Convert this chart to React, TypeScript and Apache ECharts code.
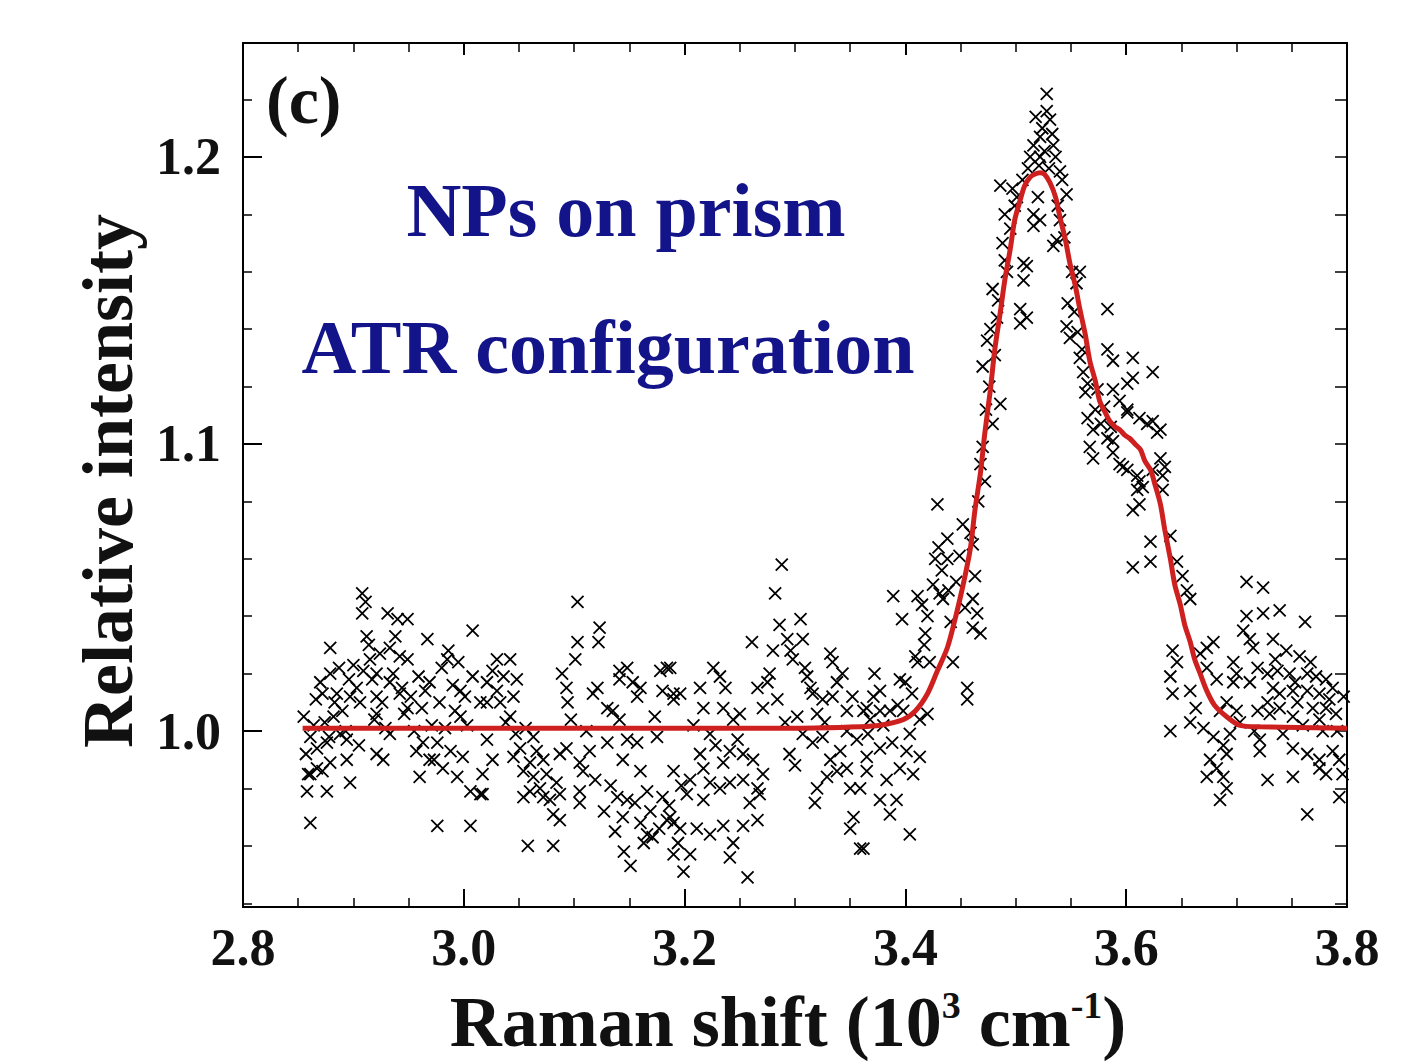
import React, { useEffect, useRef } from "react";
import * as echarts from "echarts";

// ---------- data (x in 10^3 cm^-1, y relative intensity) ----------
const xTickValues = [2.8, 3.0, 3.2, 3.4, 3.6, 3.8];
const yMajorTicks = [1.0, 1.1, 1.2];
const yMinorTicks = [0.94, 0.96, 0.98, 1.02, 1.04, 1.06, 1.08, 1.12, 1.14, 1.16, 1.18, 1.22];

const pointsLeft: number[][] = [
  [2.908,1.048],[2.911,1.045],[2.908,1.041],[2.931,1.041],[2.940,1.039],[2.949,1.039],[2.912,1.033],[2.879,1.029],
  [2.933,1.029],[2.942,1.026],[2.915,1.025],[2.949,1.025],[2.909,1.021],[2.921,1.020],[2.879,1.020],[2.967,1.032],
  [2.986,1.028],[2.985,1.025],[2.980,1.022],[3.008,1.035],[2.872,1.013],[2.885,1.013],[2.897,1.012],[2.906,1.010],
  [2.921,1.012],[2.933,1.017],[2.942,1.013],[2.949,1.008],[2.959,1.019],[2.969,1.017],[2.997,1.014],[3.008,1.019],
  [3.015,1.010],[2.882,1.005],[2.921,1.006],[2.997,1.005],[2.861,0.998],[2.888,0.999],[2.894,0.997],[2.867,0.994],
  [2.876,0.996],[2.933,0.999],[2.963,0.996],[2.976,0.996],[2.988,0.993],[2.999,0.991],[2.921,0.992],[2.927,0.990],
  [2.894,0.990],[2.867,0.987],[2.861,0.985],[2.872,0.986],[2.879,0.989],[2.969,0.990],[2.981,0.987],[2.994,0.984],
  [3.006,0.979],[3.015,0.978],[2.960,0.984],[2.858,0.979],[2.876,0.979],[2.897,0.982],[2.861,0.968],[2.976,0.967],
  [3.006,0.967],[2.855,1.005],[2.857,0.992],[2.859,0.985],[2.864,1.002],[2.866,1.011],[2.870,1.017],[2.874,1.003],
  [2.878,0.998],[2.883,1.010],[2.887,1.022],[2.890,1.007],[2.893,1.000],[2.896,1.018],[2.900,1.023],[2.903,1.015],
  [2.905,0.995],[2.914,1.030],[2.917,1.018],[2.919,1.004],[2.924,1.027],[2.926,1.010],[2.929,1.001],[2.936,1.020],
  [2.938,1.033],[2.944,1.015],[2.946,1.006],[2.952,1.012],[2.955,1.000],[2.957,0.993],[2.962,1.008],[2.965,1.014],
  [2.971,1.002],[2.973,0.990],[2.978,1.010],[2.983,1.001],[2.990,1.016],[2.992,1.007],[2.995,1.024],[3.001,1.012],
  [3.003,1.002],
];

const pointsMidLeft: number[][] = [
  [3.103,1.045],[3.123,1.036],[3.122,1.031],[3.103,1.031],[3.101,1.025],[3.089,1.020],[3.030,1.025],[3.042,1.025],
  [3.026,1.021],[3.036,1.019],[3.048,1.018],[3.021,1.017],[3.030,1.014],[3.045,1.012],[3.021,1.010],[3.033,1.010],
  [3.093,1.015],[3.094,1.010],[3.117,1.013],[3.121,1.015],[3.141,1.021],[3.148,1.022],[3.153,1.017],[3.160,1.015],
  [3.157,1.012],[3.141,1.018],[3.178,1.021],[3.184,1.022],[3.180,1.014],[3.190,1.013],[3.130,1.008],[3.135,1.007],
  [3.141,1.004],[3.042,1.005],[3.021,0.997],[3.063,0.998],[3.051,0.994],[3.093,0.994],[3.087,0.992],[3.114,0.993],
  [3.130,0.996],[3.148,0.997],[3.157,0.996],[3.175,0.998],[3.026,0.990],[3.045,0.991],[3.060,0.989],[3.072,0.990],
  [3.105,0.989],[3.144,0.990],[3.017,0.985],[3.054,0.986],[3.063,0.984],[3.069,0.980],[3.108,0.986],[3.160,0.986],
  [3.190,0.986],[3.054,0.977],[3.060,0.979],[3.072,0.977],[3.078,0.976],[3.087,0.978],[3.105,0.979],[3.105,0.975],
  [3.139,0.977],[3.148,0.976],[3.166,0.979],[3.180,0.977],[3.017,0.978],[3.081,0.971],[3.087,0.969],[3.144,0.970],
  [3.160,0.968],[3.166,0.964],[3.171,0.963],[3.184,0.969],[3.190,0.968],[3.058,0.960],[3.081,0.960],[3.151,0.953],
  [3.190,0.957],[3.038,1.003],[3.047,0.999],[3.056,1.001],[3.066,0.993],[3.075,0.985],[3.084,0.982],[3.097,1.004],
  [3.111,1.000],[3.119,0.983],[3.127,0.972],[3.133,0.981],[3.137,0.965],[3.145,0.958],[3.155,0.975],[3.163,0.961],
  [3.169,0.972],[3.173,1.005],[3.177,0.966],[3.186,0.974],[3.194,0.961],[3.197,0.981],
];

const pointsMidRight: number[][] = [
  [3.288,1.058],[3.282,1.048],[3.305,1.039],[3.286,1.037],[3.261,1.031],[3.293,1.032],[3.307,1.032],[3.280,1.028],
  [3.296,1.028],[3.298,1.025],[3.332,1.027],[3.334,1.024],[3.226,1.022],[3.187,1.022],[3.232,1.019],[3.237,1.015],
  [3.214,1.015],[3.196,1.013],[3.190,1.011],[3.277,1.020],[3.275,1.017],[3.266,1.015],[3.284,1.011],[3.271,1.008],
  [3.311,1.019],[3.314,1.015],[3.316,1.013],[3.338,1.017],[3.334,1.012],[3.325,1.011],[3.347,1.007],[3.362,1.007],
  [3.217,1.008],[3.235,1.008],[3.302,1.005],[3.320,1.006],[3.223,0.999],[3.244,1.004],[3.307,0.999],[3.316,0.996],
  [3.325,0.998],[3.347,1.000],[3.356,0.997],[3.248,0.997],[3.241,0.993],[3.253,0.992],[3.214,0.992],[3.217,0.987],
  [3.235,0.989],[3.262,0.990],[3.271,0.985],[3.300,0.988],[3.332,0.990],[3.338,0.986],[3.347,0.987],[3.365,0.986],
  [3.205,0.983],[3.223,0.982],[3.232,0.980],[3.241,0.982],[3.253,0.983],[3.266,0.980],[3.320,0.980],[3.329,0.984],
  [3.350,0.980],[3.359,0.980],[3.202,0.978],[3.217,0.976],[3.259,0.975],[3.266,0.969],[3.253,0.967],[3.187,0.970],
  [3.196,0.966],[3.211,0.966],[3.223,0.964],[3.235,0.967],[3.353,0.970],[3.350,0.966],[3.359,0.959],[3.244,0.961],
  [3.205,0.957],[3.241,0.956],[3.199,0.951],[3.257,0.949],[3.208,1.002],[3.228,0.995],[3.250,1.006],[3.268,0.978],
  [3.291,1.003],[3.295,0.992],[3.309,1.022],[3.318,0.975],[3.327,1.003],[3.341,0.993],[3.343,1.020],[3.352,1.012],
  [3.366,0.999],[3.368,1.004],
];

const pointsRise: number[][] = [
  [3.429,1.079],[3.438,1.067],[3.430,1.064],[3.427,1.060],[3.438,1.060],[3.459,1.069],[3.461,1.065],[3.389,1.047],
  [3.411,1.047],[3.415,1.044],[3.420,1.040],[3.397,1.039],[3.418,1.034],[3.431,1.048],[3.434,1.046],[3.439,1.049],
  [3.463,1.054],[3.461,1.046],[3.465,1.041],[3.461,1.036],[3.468,1.034],[3.409,1.026],[3.411,1.024],[3.372,1.020],
  [3.395,1.018],[3.400,1.017],[3.422,1.024],[3.443,1.024],[3.456,1.015],[3.456,1.011],[3.377,1.014],[3.371,1.012],
  [3.365,1.008],[3.377,1.007],[3.386,1.007],[3.398,1.007],[3.420,1.006],[3.404,0.999],[3.413,1.004],[3.377,0.994],
  [3.365,0.991],[3.401,0.993],[3.413,0.991],[3.395,0.987],[3.407,0.985],[3.383,0.983],[3.377,0.976],[3.392,0.976],
  [3.386,0.971],[3.404,0.964],[3.362,0.959],[3.380,1.002],[3.388,0.996],[3.393,1.009],[3.406,1.013],[3.417,1.030],
  [3.425,1.051],[3.433,1.056],[3.441,1.038],[3.446,1.052],[3.449,1.061],[3.452,1.072],[3.454,1.043],
];

const pointsPeak: number[][] = [
  [3.528,1.222],[3.528,1.216],[3.531,1.213],[3.524,1.210],[3.533,1.208],[3.522,1.207],[3.534,1.204],[3.516,1.204],
  [3.526,1.202],[3.513,1.200],[3.522,1.200],[3.511,1.196],[3.540,1.195],[3.542,1.192],[3.486,1.190],[3.497,1.189],
  [3.501,1.186],[3.520,1.186],[3.546,1.187],[3.490,1.180],[3.516,1.180],[3.522,1.178],[3.516,1.176],[3.540,1.178],
  [3.488,1.170],[3.534,1.169],[3.537,1.171],[3.490,1.164],[3.507,1.163],[3.510,1.162],[3.507,1.157],[3.479,1.154],
  [3.558,1.160],[3.555,1.156],[3.547,1.149],[3.583,1.147],[3.504,1.147],[3.510,1.144],[3.483,1.144],[3.504,1.142],
  [3.477,1.140],[3.474,1.136],[3.546,1.141],[3.549,1.137],[3.470,1.127],[3.558,1.130],[3.583,1.133],[3.588,1.129],
  [3.606,1.130],[3.624,1.125],[3.606,1.123],[3.601,1.121],[3.561,1.125],[3.565,1.121],[3.574,1.119],[3.588,1.119],
  [3.594,1.115],[3.601,1.112],[3.612,1.109],[3.624,1.108],[3.631,1.105],[3.486,1.114],[3.479,1.107],[3.470,1.099],
  [3.472,1.087],[3.565,1.109],[3.570,1.105],[3.583,1.102],[3.588,1.101],[3.567,1.099],[3.570,1.095],[3.588,1.097],
  [3.594,1.093],[3.601,1.091],[3.610,1.089],[3.631,1.095],[3.635,1.092],[3.633,1.089],[3.615,1.085],[3.466,1.080],
  [3.468,1.093],[3.473,1.112],[3.476,1.120],[3.481,1.131],[3.484,1.150],[3.492,1.160],[3.495,1.175],[3.499,1.183],
  [3.506,1.192],[3.518,1.214],[3.521,1.197],[3.530,1.196],[3.536,1.200],[3.538,1.183],[3.544,1.172],[3.551,1.160],
  [3.553,1.146],[3.556,1.139],[3.560,1.133],[3.563,1.118],[3.572,1.112],[3.577,1.107],[3.580,1.113],[3.586,1.106],
];

const pointsRight: number[][] = [
  [3.601,1.111],[3.619,1.107],[3.628,1.104],[3.624,1.091],[3.597,1.092],[3.612,1.087],[3.610,1.084],[3.633,1.084],
  [3.612,1.079],[3.606,1.077],[3.622,1.066],[3.606,1.057],[3.622,1.059],[3.640,1.068],[3.646,1.059],[3.651,1.054],
  [3.655,1.049],[3.658,1.046],[3.709,1.052],[3.724,1.050],[3.709,1.040],[3.724,1.041],[3.739,1.042],[3.762,1.038],
  [3.706,1.035],[3.712,1.032],[3.715,1.029],[3.733,1.032],[3.757,1.026],[3.642,1.028],[3.646,1.024],[3.640,1.019],
  [3.642,1.013],[3.658,1.014],[3.667,1.027],[3.673,1.029],[3.679,1.031],[3.673,1.022],[3.682,1.018],[3.697,1.024],
  [3.700,1.020],[3.697,1.017],[3.719,1.022],[3.728,1.020],[3.737,1.021],[3.748,1.020],[3.764,1.020],[3.772,1.019],
  [3.781,1.018],[3.787,1.015],[3.733,1.015],[3.739,1.013],[3.751,1.014],[3.764,1.014],[3.775,1.013],[3.728,1.010],
  [3.739,1.008],[3.755,1.010],[3.769,1.008],[3.781,1.008],[3.790,1.006],[3.691,1.010],[3.700,1.007],[3.719,1.007],
  [3.730,1.006],[3.751,1.005],[3.775,1.004],[3.640,1.000],[3.658,1.003],[3.685,1.007],[3.679,0.998],[3.694,0.999],
  [3.721,0.997],[3.721,0.993],[3.742,0.999],[3.751,0.994],[3.764,0.992],[3.775,0.990],[3.787,0.993],[3.793,0.990],
  [3.676,0.990],[3.682,0.987],[3.691,0.992],[3.673,0.984],[3.688,0.984],[3.691,0.980],[3.685,0.976],[3.728,0.983],
  [3.751,0.984],[3.775,0.987],[3.781,0.985],[3.793,0.977],[3.764,0.971],[3.663,1.008],[3.670,1.001],[3.688,0.995],
  [3.703,1.003],[3.712,1.017],[3.716,1.000],[3.735,1.025],[3.745,1.028],[3.753,1.017],[3.760,1.002],[3.767,1.024],
  [3.778,1.000],[3.784,1.011],[3.791,1.000],[3.796,0.985],[3.797,1.012],
];

const fitCurve: number[][] = [
  [2.854,1.001],[3.300,1.001],[3.359,1.0015],[3.377,1.002],[3.398,1.004],[3.409,1.007],[3.420,1.013],[3.429,1.021],
  [3.438,1.029],[3.445,1.039],[3.450,1.047],[3.454,1.054],[3.459,1.064],[3.463,1.077],[3.468,1.090],[3.472,1.104],
  [3.477,1.119],[3.481,1.133],[3.486,1.146],[3.490,1.157],[3.495,1.168],[3.499,1.178],[3.504,1.185],[3.508,1.190],
  [3.513,1.193],[3.517,1.194],[3.522,1.1945],[3.526,1.194],[3.531,1.191],[3.536,1.186],[3.540,1.179],[3.545,1.171],
  [3.549,1.163],[3.554,1.155],[3.558,1.147],[3.563,1.138],[3.567,1.129],[3.572,1.122],[3.576,1.115],[3.581,1.111],
  [3.585,1.108],[3.590,1.106],[3.594,1.105],[3.599,1.103],[3.603,1.102],[3.608,1.100],[3.613,1.098],[3.617,1.094],
  [3.622,1.091],[3.626,1.086],[3.631,1.079],[3.635,1.070],[3.640,1.060],[3.644,1.051],[3.649,1.044],[3.653,1.037],
  [3.658,1.031],[3.662,1.025],[3.667,1.020],[3.673,1.014],[3.680,1.009],[3.691,1.005],[3.703,1.002],[3.721,1.0015],
  [3.800,1.001],
];

const FONT = '"Liberation Serif", "Times New Roman", serif';
const NAVY = "#14148a";
const RED = "#cf2020";

export default function App() {
  const ref = useRef<HTMLDivElement>(null);
  useEffect(() => {
    document.body.style.margin = "0";
    if (!ref.current) return;
    const chart = echarts.init(ref.current, null, { renderer: "svg" });
    const allPoints = [
      ...pointsLeft, ...pointsMidLeft, ...pointsMidRight, ...pointsRise, ...pointsPeak, ...pointsRight,
    ];
    const axisLine = { show: true, onZero: false, lineStyle: { color: "#000", width: 2 } };
    const xBase = {
      type: "value" as const,
      min: 2.8,
      max: 3.8,
      interval: 0.2,
      axisLine,
      splitLine: { show: false },
      minorTick: { show: true, splitNumber: 4, length: 9, lineStyle: { color: "#000", width: 1.5 } },
    };
    const yBase = {
      type: "value" as const,
      min: 0.9387,
      max: 1.2397,
      axisLine,
      splitLine: { show: false },
    };
    chart.setOption({
      animation: false,
      backgroundColor: "#fff",
      grid: { left: 243, right: 55, top: 43, bottom: 154, show: false },
      xAxis: [
        {
          ...xBase,
          position: "bottom",
          axisTick: { show: true, inside: true, length: 18, lineStyle: { color: "#000", width: 2 } },
          axisLabel: {
            show: true,
            margin: 14,
            color: "#111",
            fontFamily: FONT,
            fontWeight: "bold",
            fontSize: 52,
            formatter: (v: number) => v.toFixed(1),
            customValues: xTickValues,
          },
        },
        {
          ...xBase,
          position: "top",
          axisTick: { show: true, inside: true, length: 12, lineStyle: { color: "#000", width: 2 } },
          axisLabel: { show: false },
        },
      ],
      yAxis: [
        {
          ...yBase,
          position: "left",
          axisTick: { show: true, inside: true, length: 19, customValues: yMajorTicks, lineStyle: { color: "#000", width: 2 } },
          axisLabel: {
            show: true,
            margin: 22,
            color: "#111",
            fontFamily: FONT,
            fontWeight: "bold",
            fontSize: 52,
            customValues: yMajorTicks,
            formatter: (v: number) => v.toFixed(1),
          },
        },
        {
          ...yBase,
          position: "left",
          axisTick: { show: true, inside: true, length: 9, customValues: yMinorTicks, lineStyle: { color: "#000", width: 1.5 } },
          axisLabel: { show: false },
        },
        {
          ...yBase,
          position: "right",
          axisTick: {
            show: true,
            inside: true,
            length: 12,
            customValues: [...yMinorTicks, ...yMajorTicks],
            lineStyle: { color: "#000", width: 1.5 },
          },
          axisLabel: { show: false },
        },
      ],
      series: [
        {
          type: "scatter",
          xAxisIndex: 0,
          yAxisIndex: 0,
          data: allPoints,
          symbol: "path://M0,0L10,10M10,0L0,10",
          symbolSize: 12,
          itemStyle: { color: "none", borderColor: "#000", borderWidth: 1.8, opacity: 1 },
          z: 2,
        },
        {
          type: "line",
          xAxisIndex: 0,
          yAxisIndex: 0,
          data: fitCurve,
          showSymbol: false,
          smooth: 0.3,
          lineStyle: { color: RED, width: 5 },
          z: 3,
        },
      ],
      graphic: [
        {
          type: "text",
          x: 266,
          y: 100,
          style: { text: "(c)", fill: "#111", font: `bold 68px ${FONT}`, align: "left", verticalAlign: "middle" },
        },
        {
          type: "text",
          x: 626,
          y: 210,
          style: { text: "NPs on prism", fill: NAVY, font: `bold 76px ${FONT}`, align: "center", verticalAlign: "middle" },
        },
        {
          type: "text",
          x: 608,
          y: 347,
          style: { text: "ATR configuration", fill: NAVY, font: `bold 76px ${FONT}`, align: "center", verticalAlign: "middle" },
        },
        {
          type: "text",
          x: 108,
          y: 481,
          rotation: Math.PI / 2,
          style: { text: "Relative intensity", fill: "#111", font: `bold 72px ${FONT}`, align: "center", verticalAlign: "middle" },
        },
        {
          type: "text",
          x: 788,
          y: 1022,
          style: {
            text: "{a|Raman shift (10}{s|3}{a| cm}{s|-1}{a|)}",
            align: "center",
            verticalAlign: "middle",
            fill: "#111",
            rich: {
              a: { fontFamily: FONT, fontWeight: "bold", fontSize: 72, fill: "#111", color: "#111" },
              s: { fontFamily: FONT, fontWeight: "bold", fontSize: 38, fill: "#111", color: "#111", verticalAlign: "top" },
            },
          },
        },
      ],
    });
    return () => chart.dispose();
  }, []);
  return <div ref={ref} style={{ width: 1402, height: 1061 }} />;
}
